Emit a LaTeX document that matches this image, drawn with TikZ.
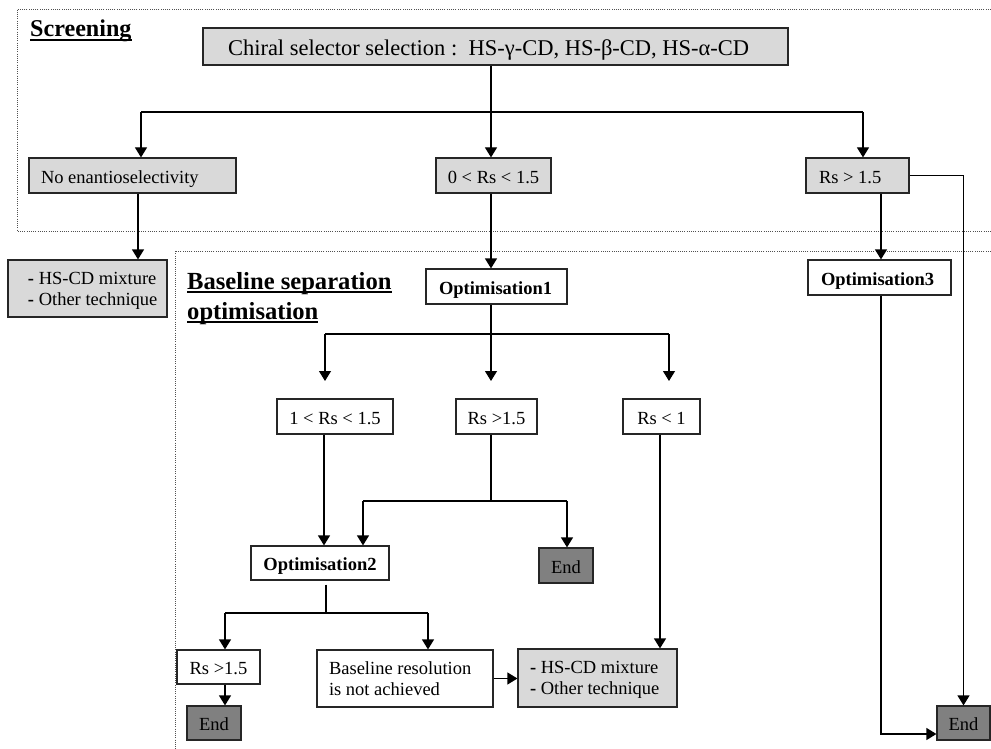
\documentclass[tikz,border=0pt]{standalone}
\usepackage{fontspec}
\setmainfont{Liberation Serif}
\usetikzlibrary{arrows.meta}

\definecolor{boxgray}{HTML}{D9D9D9}
\definecolor{endgray}{HTML}{808080}
\definecolor{edge}{HTML}{262626}
\definecolor{dotgray}{HTML}{505050}

% underlined heading with a heavier rule
\newcommand\hul[1]{\setbox0=\hbox{#1}\rlap{\rule[-4pt]{\wd0}{1.8pt}}\box0}

% box from its corners (left, top, right, bottom), text centred
\newcommand\bxc[7][]{%
  \pgfmathsetmacro\myw{#5-#3}\pgfmathsetmacro\myh{#6-#4}%
  \pgfmathsetmacro\mycx{(#3+#5)/2}\pgfmathsetmacro\mycy{(#4+#6)/2}%
  \node[box,#1,minimum width=\myw pt,minimum height=\myh pt] (#2) at (\mycx,\mycy) {#7};}

% box from its corners, text flush left with a given indent
\newcommand\bxl[8][]{%
  \pgfmathsetmacro\myw{#5-#3}\pgfmathsetmacro\myh{#6-#4}%
  \pgfmathsetmacro\mycx{(#3+#5)/2}\pgfmathsetmacro\mycy{(#4+#6)/2}%
  \node[box,#1,minimum width=\myw pt,minimum height=\myh pt] (#2) at (\mycx,\mycy)
    {\makebox[\myw pt][l]{\hspace*{#7pt}\begin{tabular}[b]{@{}l@{}}#8\end{tabular}}};}

\begin{document}
\begin{tikzpicture}[x=1pt,y=-1pt,
  box/.style={draw=edge,line width=1.2pt,inner sep=0pt,text height=15pt,text depth=0pt,
    font=\fontsize{18.5}{21}\selectfont},
  twoline/.style={text height=33pt},
  ln/.style={line width=1.2pt,black},
  arr/.style={ln,-{Triangle[width=12pt,length=10pt]}},
  zone/.style={dotgray,line width=0.9pt,dash pattern=on 1pt off 1.2pt}]

\useasboundingbox (0,0) rectangle (991,749);

% dotted frames of the two stages
\draw[zone] (991,9) -- (17,9) -- (17,231) -- (991,231);
\draw[zone] (991,251) -- (175,251) -- (175,749);

% headings
\node[anchor=base west,inner sep=0pt,font=\fontsize{24.1}{29}\selectfont\bfseries] (scr) at (30,37) {\hul{Screening}};
\node[anchor=base west,inner sep=0pt,align=left,font=\fontsize{24.6}{30}\selectfont\bfseries] (bso) at (187,319) {\hul{Baseline separation}\\\hul{optimisation}};

% boxes
\bxl[fill=boxgray,font=\fontsize{22.5}{26}\selectfont,text height=18pt]{chiral}{203}{28}{788}{65}{25}{Chiral selector selection :\ \ HS-γ-CD, HS-β-CD, HS-α-CD}
\bxl[fill=boxgray]{noenan}{29}{158}{236}{193}{12}{No enantioselectivity}
\bxc[fill=boxgray]{rsa}{436}{158}{551}{193}{0 < Rs < 1.5}
\bxl[fill=boxgray]{rsb}{806}{158}{909}{193}{13}{Rs > 1.5}
\bxl[fill=boxgray,twoline]{mixa}{8}{260}{167}{317}{20}{\textbf{-} HS-CD mixture\\\textbf{-} Other technique}
\bxl{opta}{426}{269}{567}{304}{13}{\textbf{Optimisation1}}
\bxl{optc}{808}{260}{951}{295}{13}{\textbf{Optimisation3}}
\bxc{rsc}{277}{399}{393}{434}{1 < Rs < 1.5}
\bxc{rsd}{456}{399}{537}{434}{Rs >1.5}
\bxc{rse}{623}{399}{700}{434}{Rs < 1}
\bxc{optb}{251}{546}{389}{580}{\textbf{Optimisation2}}
\bxc[fill=endgray]{enda}{539}{548}{593}{583}{End}
\bxc{rsf}{177}{650}{260}{684}{Rs >1.5}
\bxc[fill=endgray]{endb}{187}{706}{241}{740}{End}
\bxl[twoline]{nores}{317}{650}{493}{707}{12}{Baseline resolution\\is not achieved}
\bxl[fill=boxgray,twoline]{mixb}{518}{649}{677}{707}{12}{\textbf{-} HS-CD mixture\\\textbf{-} Other technique}
\bxc[fill=endgray]{endc}{937}{706}{990}{740}{End}

% junctions and columns of the connectors
\coordinate (ja) at (491,112);
\coordinate (jal) at (141,112);
\coordinate (jar) at (863,112);
\coordinate (cb) at (138,0);
\coordinate (cc) at (881,0);
\coordinate (jb) at (491,334);
\coordinate (jbl) at (325,334);
\coordinate (jbr) at (669,334);
\coordinate (tip) at (0,381);
\coordinate (cd) at (324,0);
\coordinate (jc) at (491,501);
\coordinate (jcl) at (363,501);
\coordinate (jcr) at (567,501);
\coordinate (jd) at (326,613);
\coordinate (jdl) at (225,613);
\coordinate (jdr) at (428,613);
\coordinate (ce) at (660,0);
\coordinate (jf) at (881,734);

% screening
\draw[ln] (jal) -- (jar);
\draw[arr] (chiral.south -| ja) -- (rsa.north -| ja);
\draw[arr] (jal) -- (jal |- noenan.north);
\draw[arr] (jar) -- (jar |- rsb.north);
\draw[arr] (noenan.south -| cb) -- (mixa.north -| cb);
\draw[arr] (rsa.south -| ja) -- (opta.north -| ja);
\draw[arr] (rsb.south -| cc) -- (optc.north -| cc);
\draw[arr] (rsb.east) -| (endc.north);

% optimisation 1
\draw[ln] (opta.south -| jb) -- (jb);
\draw[ln] (jbl) -- (jbr);
\draw[arr] (jbl) -- (jbl |- tip);
\draw[arr] (jb) -- (jb |- tip);
\draw[arr] (jbr) -- (jbr |- tip);
\draw[arr] (rsc.south -| cd) -- (optb.north -| cd);
\draw[ln] (rsd.south -| jc) -- (jc);
\draw[ln] (jcl) -- (jcr);
\draw[arr] (jcl) -- (jcl |- optb.north);
\draw[arr] (jcr) -- (jcr |- enda.north);
\draw[arr] (rse.south -| ce) -- (mixb.north -| ce);

% optimisation 2
\draw[ln,shorten <=4pt] (optb.south -| jd) -- (jd);
\draw[ln] (jdl) -- (jdr);
\draw[arr] (jdl) -- (jdl |- rsf.north);
\draw[arr] (jdr) -- (jdr |- nores.north);
\draw[arr] (rsf.south -| jdl) -- (endb.north -| jdl);
\draw[arr] (nores.east) -- (nores.east -| mixb.west);

% optimisation 3
\draw[arr] (optc.south -| jf) -- (jf) -- (jf -| endc.west);

\end{tikzpicture}
\end{document}
